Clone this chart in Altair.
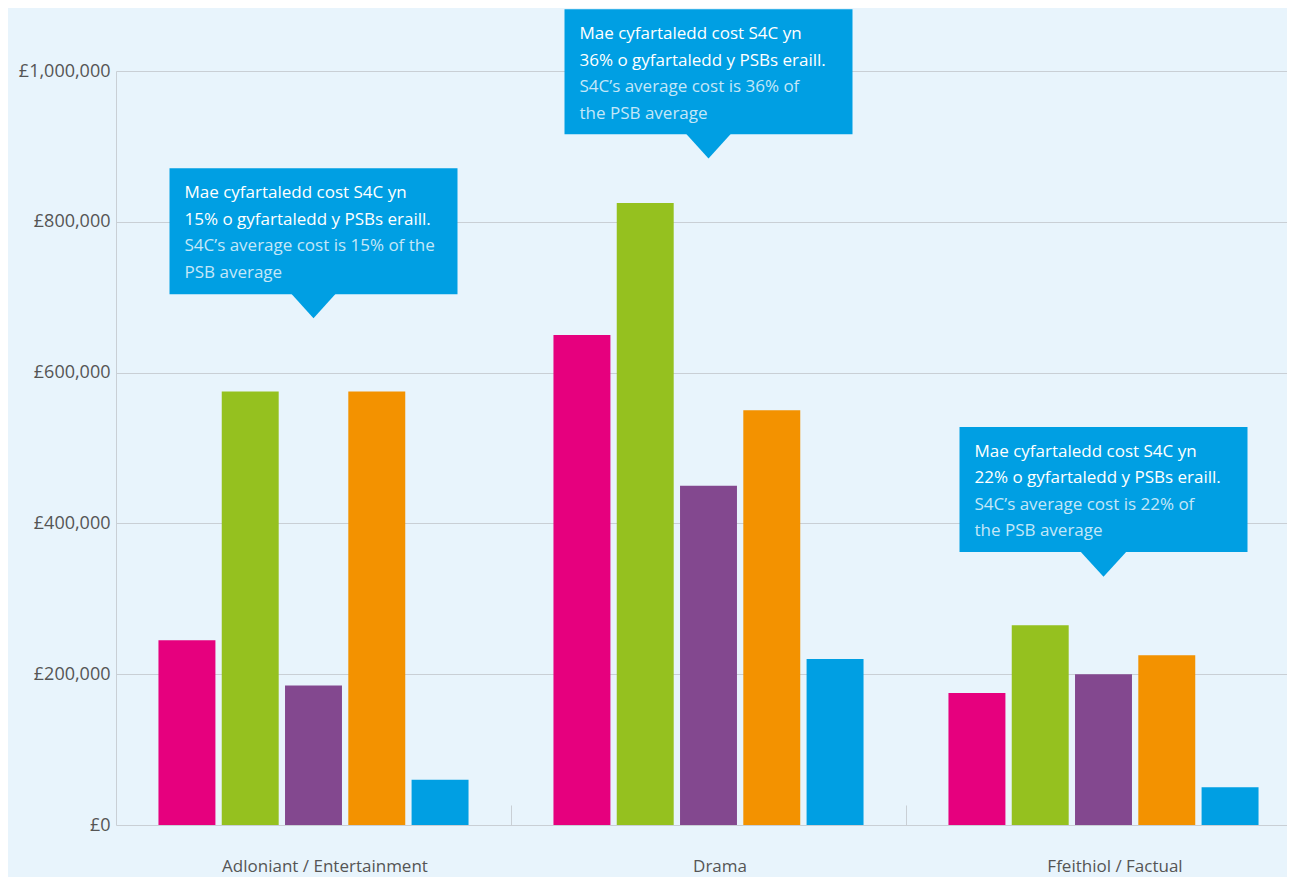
import altair as alt
import pandas as pd

categories = ["Adloniant / Entertainment", "Drama", "Ffeithiol / Factual"]
series = ["BBC", "ITV", "Channel 4", "Channel 5", "S4C"]
colors = ["#e6007e", "#95c11f", "#83488f", "#f39200", "#009fe3"]
bbc = [245000, 650000, 175000]
itv = [575000, 825000, 265000]
ch4 = [185000, 450000, 200000]
ch5 = [575000, 550000, 225000]
s4c = [60000, 220000, 50000]

callout_welsh = [
    "Mae cyfartaledd cost S4C yn\n15% o gyfartaledd y PSBs eraill.",
    "Mae cyfartaledd cost S4C yn\n36% o gyfartaledd y PSBs eraill.",
    "Mae cyfartaledd cost S4C yn\n22% o gyfartaledd y PSBs eraill.",
]
callout_english = [
    "S4C\u2019s average cost is 15% of the\nPSB average",
    "S4C\u2019s average cost is 36% of\nthe PSB average",
    "S4C\u2019s average cost is 22% of\nthe PSB average",
]
callout_top = [871000, 1082000, 528000]
callout_bottom = [704000, 916000, 362000]
callout_pointer = [688000, 900000, 345000]

rows = []
for s, vals in zip(series, [bbc, itv, ch4, ch5, s4c]):
    for c, v in zip(categories, vals):
        rows.append({"category": c, "series": s, "value": v})
bars_df = pd.DataFrame(rows)

notes_df = pd.DataFrame({
    "category": categories,
    "welsh": callout_welsh,
    "english": callout_english,
    "top": callout_top,
    "bottom": callout_bottom,
    "pointer": callout_pointer,
})

FONT = "Open Sans"
BOX = "#009fe3"
GRID = "#c9cfd5"
RANGE_W = 1185
STEP = RANGE_W / 3

x_scale = alt.Scale(domain=categories, paddingInner=0.215, paddingOuter=0.1075, range=[0, RANGE_W])
y_scale = alt.Scale(domain=[0, 1000000], nice=False)

x_enc = alt.X(
    "category:N",
    scale=x_scale,
    sort=categories,
    axis=alt.Axis(
        title=None, labelAngle=0, labelFontSize=17, labelColor="#555555", labelFont=FONT,
        labelLimit=0, domain=False, ticks=True, tickSize=20, tickColor=GRID,
        tickOffset=STEP / 2, labelOffset=11 - STEP / 2,
        offset=-20, labelPadding=33, grid=False,
    ),
)

bars = alt.Chart(bars_df).mark_bar().encode(
    x=x_enc,
    xOffset=alt.XOffset("series:N", sort=series,
                        scale=alt.Scale(domain=series, paddingInner=0.1, paddingOuter=0)),
    y=alt.Y(
        "value:Q", scale=y_scale,
        axis=alt.Axis(
            title=None, values=[0, 200000, 400000, 600000, 800000, 1000000],
            labelExpr="'£' + format(datum.value, ',')",
            labelFontSize=18, labelColor="#555555", labelFont=FONT, labelPadding=6,
            ticks=False, domain=True, domainColor=GRID, grid=True, gridColor=GRID,
        ),
    ),
    color=alt.Color("series:N", sort=series, scale=alt.Scale(domain=series, range=colors), legend=None),
)

boxes = alt.Chart(notes_df).mark_bar(width=288, color=BOX).encode(
    x=alt.X("category:N", scale=x_scale, sort=categories),
    y=alt.Y("top:Q", scale=y_scale),
    y2="bottom:Q",
)

pointers = alt.Chart(notes_df).mark_point(
    shape="M-1,-0.6L1,-0.6L0,0.5Z", size=2304, filled=True, opacity=1, color=BOX, strokeWidth=0
).encode(
    x=alt.X("category:N", scale=x_scale, sort=categories),
    y=alt.Y("pointer:Q", scale=y_scale),
)

welsh = alt.Chart(notes_df).mark_text(
    align="left", baseline="top", dx=-129, dy=17, fontSize=17, font=FONT,
    color="white", lineBreak="\n", lineHeight=26.5,
).encode(
    x=alt.X("category:N", scale=x_scale, sort=categories),
    y=alt.Y("top:Q", scale=y_scale),
    text="welsh:N",
)

english = alt.Chart(notes_df).mark_text(
    align="left", baseline="top", dx=-129, dy=70, fontSize=17, font=FONT,
    color="#c4e7f8", lineBreak="\n", lineHeight=26.5,
).encode(
    x=alt.X("category:N", scale=x_scale, sort=categories),
    y=alt.Y("top:Q", scale=y_scale),
    text="english:N",
)

chart = alt.layer(bars, boxes, pointers, welsh, english).properties(
    width=1171, height=754,
    autosize=alt.AutoSizeParams(type="none"),
    padding={"left": 108, "top": 63, "right": 0, "bottom": 52},
    background="#e8f4fc",
).configure_view(stroke=None)

chart.save("out.html", embed_options={"renderer": "svg", "actions": False})
